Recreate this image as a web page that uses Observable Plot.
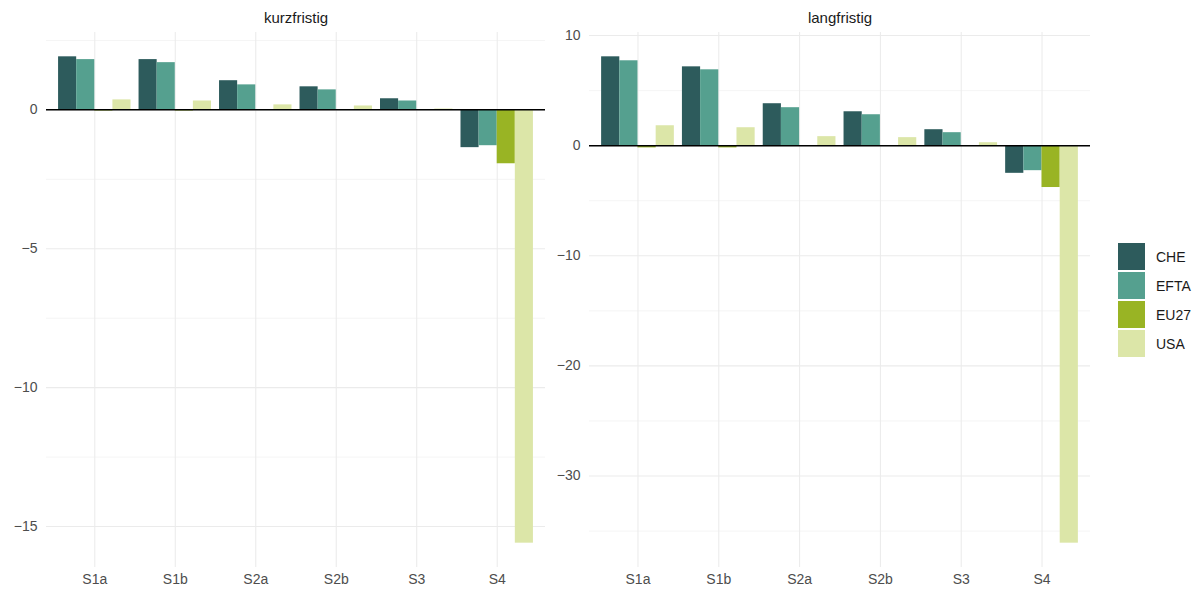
<!DOCTYPE html>
<html><head><meta charset="utf-8">
<script src="https://cdn.jsdelivr.net/npm/d3@7"></script>
<script src="https://cdn.jsdelivr.net/npm/@observablehq/plot@0.6"></script>
<style>
body{margin:0;background:#fff;font-family:"Liberation Sans",Arial,sans-serif;}
#wrap{position:relative;width:1201px;height:594px;overflow:hidden;}
#left{position:absolute;left:0;top:0}
#right{position:absolute;left:545px;top:0}
#legend{position:absolute;left:1118px;top:243px}
.item{display:flex;align-items:center;height:27px;margin-bottom:2px;}
.sw{width:27px;height:27px;margin-right:11px;}
.lab{font-size:14px;color:#1a1a1a;}
</style></head><body>
<div id="wrap"><div id="left"></div><div id="right"></div><div id="legend"></div></div>
<script>
const scenarios = ["S1a","S1b","S2a","S2b","S3","S4"];
const countries = ["CHE","EFTA","EU27","USA"];
const colors = ["#2d5b5c","#55a08f","#99b424","#dce6a8"];
const panelTitles = ["kurzfristig","langfristig"];

const kurzCHE  = [1.91, 1.81, 1.05, 0.83, 0.40, -1.36];
const kurzEFTA = [1.81, 1.70, 0.90, 0.72, 0.32, -1.29];
const kurzEU27 = [-0.04, -0.04, 0.00, 0.00, 0.00, -1.94];
const kurzUSA  = [0.36, 0.32, 0.18, 0.14, 0.03, -15.6];

const langCHE  = [8.07, 7.16, 3.81, 3.08, 1.45, -2.51];
const langEFTA = [7.71, 6.89, 3.45, 2.81, 1.18, -2.27];
const langEU27 = [-0.2, -0.2, 0.00, 0.00, 0.00, -3.80];
const langUSA  = [1.81, 1.63, 0.82, 0.73, 0.27, -36.1];

const kurzTicks = [-15, -10, -5, 0];
const kurzMinor = [-12.5, -7.5, -2.5, 2.5];
const langTicks = [-30, -20, -10, 0, 10];
const langMinor = [-35, -25, -15, -5, 5];

function buildRows(series) {
  const rows = [];
  scenarios.forEach((s, i) => {
    countries.forEach((c, k) => {
      // dodge: total width 0.9 per category, like ggplot position_dodge
      const w = 0.9 / countries.length;
      const x1 = (i + 1) - 0.45 + k * w;
      rows.push({scenario: s, country: c, value: series[k][i], x1, x2: x1 + w});
    });
  });
  return rows;
}

function panel(title, series, ticks, minor, marginLeft) {
  const rows = buildRows(series);
  const vals = rows.map(d => d.value);
  const lo = Math.min(0, d3.min(vals)), hi = Math.max(0, d3.max(vals));
  const pad = (hi - lo) * 0.05;
  const cats = d3.range(1, scenarios.length + 1);
  return Plot.plot({
    width: 550, height: 594,
    marginTop: 32, marginBottom: 27, marginLeft, marginRight: 5,
    style: {fontFamily: '"Liberation Sans", Arial, sans-serif', fontSize: "14px", color: "#4d4d4d", background: "white", overflow: "visible"},
    x: {domain: [0.4, scenarios.length + 0.6], ticks: cats, tickFormat: i => scenarios[i - 1], tickSize: 0, tickPadding: 7, label: null},
    y: {domain: [lo - pad, hi + pad], ticks, tickSize: 0, tickPadding: 9, label: null},
    color: {domain: countries, range: colors},
    marks: [
      Plot.ruleY(minor, {stroke: "#ebebeb", strokeWidth: 0.55}),
      Plot.ruleY(ticks, {stroke: "#ebebeb", strokeWidth: 1.07}),
      Plot.ruleX(cats, {stroke: "#ebebeb", strokeWidth: 1.07}),
      Plot.rect(rows, {x1: "x1", x2: "x2", y1: 0, y2: "value", fill: "country"}),
      Plot.ruleY([0], {stroke: "black", strokeWidth: 1.5}),
      Plot.text([title], {frameAnchor: "top", lineAnchor: "middle", dy: -14, fill: "#1a1a1a", fontSize: 15})
    ]
  });
}

document.getElementById("left").appendChild(
  panel(panelTitles[0], [kurzCHE, kurzEFTA, kurzEU27, kurzUSA], kurzTicks, kurzMinor, 46));
document.getElementById("right").appendChild(
  panel(panelTitles[1], [langCHE, langEFTA, langEU27, langUSA], langTicks, langMinor, 44));

const legend = document.getElementById("legend");
countries.forEach((c, k) => {
  const item = document.createElement("div"); item.className = "item";
  const sw = document.createElement("div"); sw.className = "sw"; sw.style.background = colors[k];
  const lab = document.createElement("span"); lab.className = "lab"; lab.textContent = c;
  item.appendChild(sw); item.appendChild(lab); legend.appendChild(item);
});
</script>
</body></html>
